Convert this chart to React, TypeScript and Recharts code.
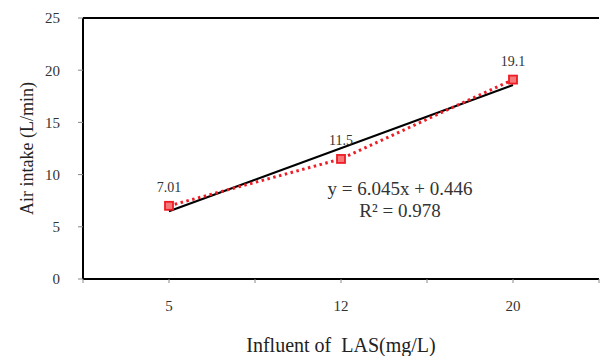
import React from 'react';
import { LineChart, Line, XAxis, YAxis, ReferenceLine, LabelList, Label } from 'recharts';

const categories = ['5', '12', '20'];
const airIntake = [7.01, 11.5, 19.1];
const trendValues = [6.49, 18.58]; // linear trendline end values, y = 6.045x + 0.446
const yTicks = [0, 5, 10, 15, 20, 25];
const xTicks = [0.5, 1, 1.5, 2, 2.5, 3, 3.5];
const equationText = 'y = 6.045x + 0.446';
const r2Text = 'R² = 0.978';

const data = categories.map((c, i) => ({ idx: i + 1, label: c, value: airIntake[i] }));
const trendData = [
  { idx: 1, trend: trendValues[0] },
  { idx: 3, trend: trendValues[1] },
];

const FONT = '"Liberation Serif", "Times New Roman", serif';

const SquareDot = (props: any) => {
  const { cx, cy } = props;
  if (cx == null || cy == null) return null;
  return <rect x={cx - 4} y={cy - 4} width={8} height={8} fill="#f47a7a" stroke="#ee1c25" strokeWidth={1.8} />;
};

export default function App() {
  return (
    <div style={{ position: 'absolute', left: 0, top: 0, width: 601, height: 356, background: '#fff' }}>
      <LineChart width={601} height={356} margin={{ top: 18, right: 2, left: 0, bottom: 0 }}>
        <XAxis
          dataKey="idx"
          type="number"
          domain={[0.5, 3.5]}
          ticks={xTicks}
          allowDuplicatedCategory={false}
          tickFormatter={(v: number) => (Number.isInteger(v) ? categories[v - 1] : '')}
          height={77}
          axisLine={{ stroke: '#000', strokeWidth: 2 }}
          tickLine={{ stroke: '#888' }}
          tickSize={4}
          tickMargin={17}
          tick={{ fill: '#333', fontSize: 15, fontFamily: FONT }}
        >
          <Label
            value={'Influent of\u00a0\u00a0LAS(mg/L)'}
            position="center"
            dy={27}
            style={{ fill: '#222', fontSize: 20, fontFamily: FONT }}
          />
        </XAxis>
        <YAxis
          type="number"
          domain={[0, 25]}
          ticks={yTicks}
          width={83}
          axisLine={{ stroke: '#000', strokeWidth: 2 }}
          tickLine={{ stroke: '#888' }}
          tickSize={5}
          tickMargin={18}
          tick={{ fill: '#333', fontSize: 15, fontFamily: FONT }}
        >
          <Label
            value="Air intake (L/min)"
            position="center"
            angle={-90}
            dx={-15}
            style={{ fill: '#222', fontSize: 18, fontFamily: FONT, textAnchor: 'middle' }}
          />
        </YAxis>
        <ReferenceLine y={25} stroke="#000" strokeWidth={2} ifOverflow="visible" />
        <Line
          data={trendData}
          dataKey="trend"
          stroke="#000"
          strokeWidth={2.2}
          dot={false}
          activeDot={false}
          isAnimationActive={false}
        />
        <Line
          data={data}
          dataKey="value"
          stroke="#ee1c25"
          strokeWidth={3}
          strokeDasharray="2.5 3.5"
          dot={<SquareDot />}
          activeDot={false}
          isAnimationActive={false}
        >
          <LabelList
            dataKey="value"
            position="top"
            offset={14}
            style={{ fill: '#333', fontSize: 14, fontFamily: FONT }}
          />
        </Line>
        <text x={400} y={195} textAnchor="middle" fill="#333" fontSize={19} fontFamily={FONT}>
          {equationText}
        </text>
        <text x={400} y={217} textAnchor="middle" fill="#333" fontSize={19} fontFamily={FONT}>
          {r2Text}
        </text>
      </LineChart>
    </div>
  );
}
